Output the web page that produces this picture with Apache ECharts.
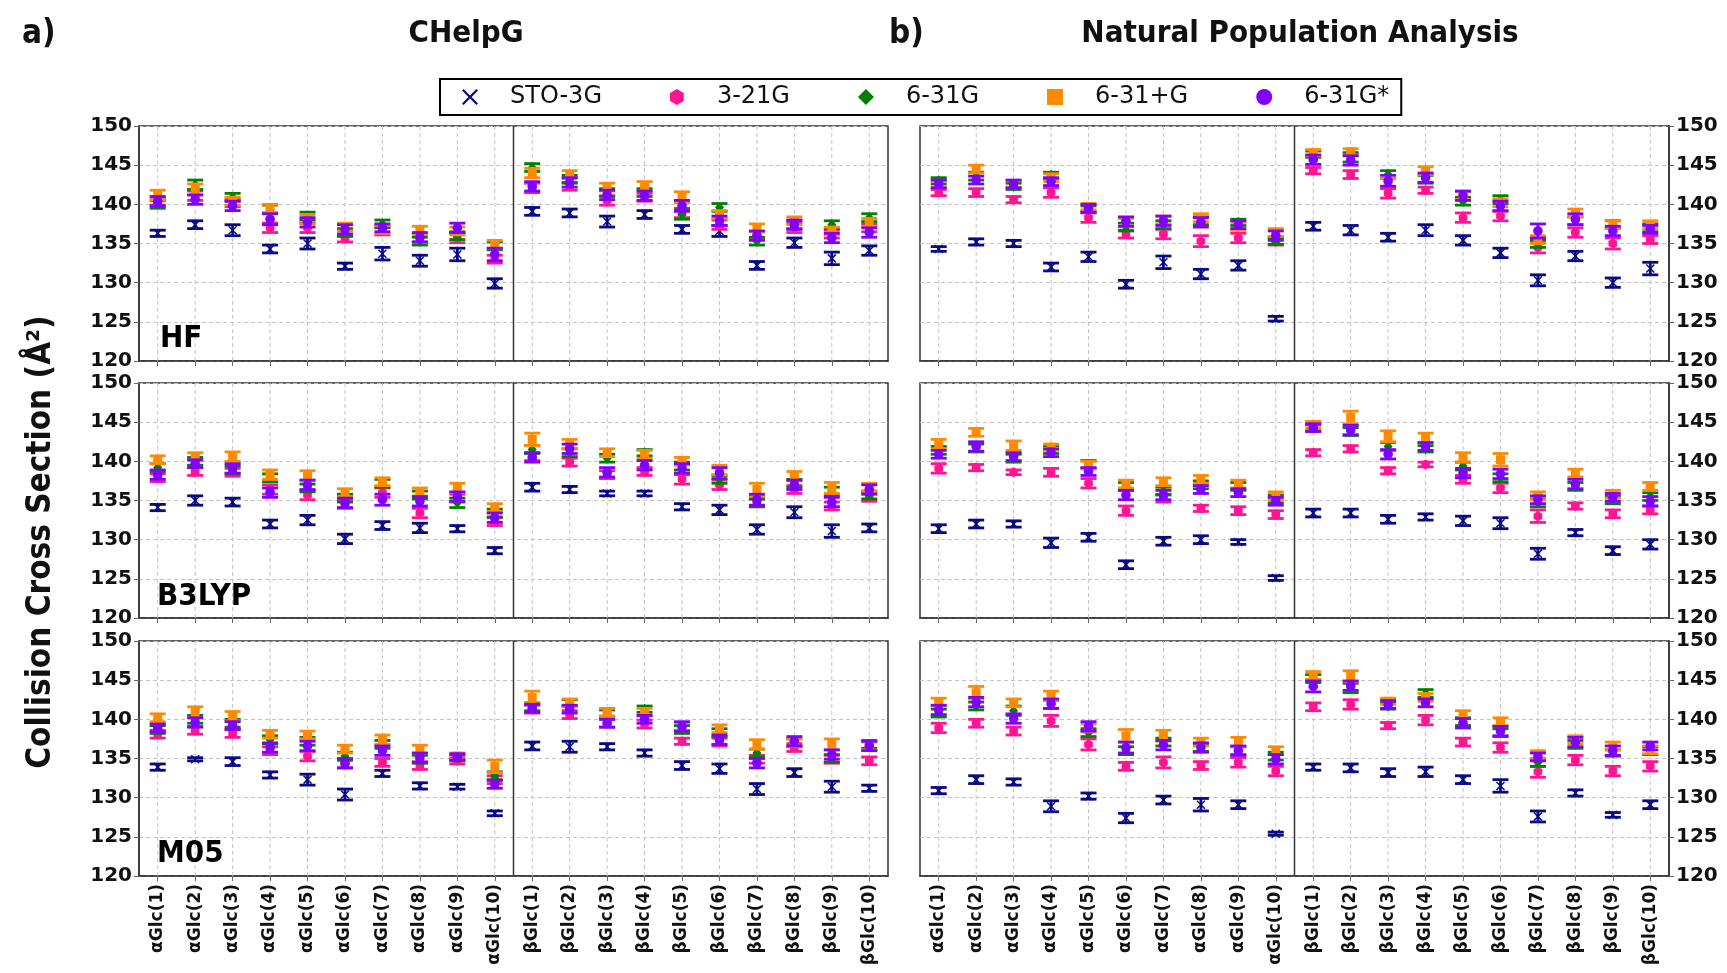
<!DOCTYPE html>
<html><head><meta charset="utf-8">
<script src="https://cdn.jsdelivr.net/npm/echarts@6.0.0/dist/echarts.min.js"></script>
<style>html,body{margin:0;padding:0;background:#fff}#c{width:1727px;height:973px}</style>
</head><body><div id="c"></div>
<script>
// ---------- categories / series names / axis ----------
const CATEGORIES = ['αGlc(1)','αGlc(2)','αGlc(3)','αGlc(4)','αGlc(5)','αGlc(6)','αGlc(7)','αGlc(8)','αGlc(9)','αGlc(10)',
  'βGlc(1)','βGlc(2)','βGlc(3)','βGlc(4)','βGlc(5)','βGlc(6)','βGlc(7)','βGlc(8)','βGlc(9)','βGlc(10)'];
const BASIS_SETS = ['STO-3G','3-21G','6-31G','6-31+G','6-31G*'];
const METHODS = ['HF','B3LYP','M05'];
const CHARGE_SCHEMES = ['CHelpG','Natural Population Analysis'];
const Y_MIN = 120, Y_MAX = 150, Y_STEP = 5;

// ---------- HF / CHelpG ----------
const HF_CHELPG_STO3G = [136.3,137.4,136.7,134.3,135.0,132.1,133.7,132.8,133.6,129.9,139.1,138.9,137.8,138.7,136.8,136.6,132.2,135.1,133.1,134.1];
const HF_CHELPG_321G  = [140.4,141.1,140.2,137.0,137.0,135.7,136.6,135.7,135.7,133.0,142.1,142.3,140.5,140.9,138.9,137.4,136.0,137.0,136.2,137.0];
const HF_CHELPG_631G  = [140.0,142.5,140.9,139.4,138.5,136.4,137.5,135.3,136.0,134.7,144.7,143.2,141.5,141.5,138.7,139.6,135.3,137.4,137.4,138.3];
const HF_CHELPG_631PG = [141.2,141.9,140.4,139.4,138.1,137.1,136.8,136.7,136.6,134.9,144.0,143.8,142.2,142.3,140.9,138.7,137.0,137.9,136.6,137.7];
const HF_CHELPG_631GS = [140.4,140.6,139.8,138.1,137.7,136.8,137.0,135.8,137.0,133.6,142.3,142.8,141.2,141.1,139.8,137.9,136.0,137.4,135.7,136.4];
const HF_CHELPG_STO3G_ERR = [0.4,0.5,0.7,0.5,0.7,0.4,0.8,0.7,0.8,0.6,0.5,0.5,0.7,0.5,0.5,0.7,0.5,0.6,0.8,0.6];
const HF_CHELPG_321G_ERR  = [0.5,0.6,0.5,0.6,0.6,0.5,0.5,0.5,0.6,0.5,0.6,0.5,0.6,0.5,0.6,0.6,0.5,0.6,0.5,0.5];
const HF_CHELPG_631G_ERR  = [0.5,0.6,0.5,0.5,0.5,0.5,0.5,0.5,0.5,0.5,0.5,0.5,0.5,0.5,0.6,0.5,0.5,0.5,0.5,0.5];
const HF_CHELPG_631PG_ERR = [0.6,0.7,0.5,0.6,0.6,0.5,0.5,0.5,0.5,0.5,0.6,0.5,0.5,0.6,0.7,0.5,0.5,0.5,0.5,0.5];
const HF_CHELPG_631GS_ERR = [0.6,0.6,0.6,0.7,0.6,0.6,0.5,0.6,0.6,0.8,0.6,0.6,0.6,0.6,0.7,0.6,0.6,0.6,0.6,0.6];

// ---------- HF / NPA ----------
const HF_NPA_STO3G = [134.3,135.2,135.0,132.0,133.3,129.8,132.6,131.1,132.2,125.4,137.2,136.7,135.8,136.7,135.4,133.8,130.3,133.4,130.0,131.8];
const HF_NPA_321G  = [141.5,141.5,140.6,141.5,138.3,136.2,136.2,135.3,135.7,135.3,144.3,143.8,141.4,141.8,138.3,138.5,134.5,136.4,135.0,135.5];
const HF_NPA_631G  = [143.0,143.6,142.3,143.7,139.4,137.1,137.4,137.9,137.7,135.3,146.4,146.0,143.8,143.2,140.4,140.6,135.0,137.9,137.4,137.0];
const HF_NPA_631PG = [142.6,144.5,142.6,143.4,139.7,137.7,138.0,138.3,137.2,136.4,146.6,146.7,142.8,144.3,141.1,140.2,135.5,138.9,137.4,137.4];
const HF_NPA_631GS = [142.6,143.1,142.6,142.9,139.5,137.8,137.9,137.7,137.4,136.0,145.7,145.6,143.0,143.4,141.1,139.8,136.6,138.1,136.6,136.8];
const HF_NPA_STO3G_ERR = [0.3,0.4,0.4,0.5,0.6,0.5,0.8,0.6,0.6,0.3,0.5,0.6,0.5,0.7,0.6,0.6,0.7,0.6,0.6,0.8];
const HF_NPA_321G_ERR  = [0.4,0.5,0.4,0.6,0.6,0.5,0.6,0.7,0.6,0.5,0.4,0.5,0.6,0.4,0.6,0.6,0.7,0.6,0.7,0.5];
const HF_NPA_631G_ERR  = [0.4,0.5,0.4,0.4,0.4,0.5,0.5,0.5,0.4,0.4,0.4,0.6,0.5,0.5,0.5,0.5,0.5,0.5,0.5,0.5];
const HF_NPA_631PG_ERR = [0.4,0.5,0.4,0.5,0.4,0.5,0.5,0.5,0.5,0.5,0.4,0.4,0.5,0.5,0.5,0.5,0.5,0.5,0.5,0.5];
const HF_NPA_631GS_ERR = [0.5,0.5,0.5,0.5,0.5,0.6,0.6,0.6,0.5,0.6,0.6,0.6,0.7,0.6,0.6,0.6,0.9,0.7,0.6,0.5];

// ---------- B3LYP / CHelpG ----------
const B3LYP_CHELPG_STO3G = [134.1,135.0,134.8,132.0,132.5,130.1,131.8,131.5,131.4,128.6,136.7,136.4,135.9,135.9,134.2,133.8,131.3,133.5,131.1,131.5];
const B3LYP_CHELPG_321G  = [137.9,138.7,138.6,136.4,135.7,134.5,136.0,133.4,135.3,132.3,140.6,139.9,138.3,138.7,137.7,137.0,134.7,136.4,134.3,135.4];
const B3LYP_CHELPG_631G  = [139.2,140.0,138.9,137.9,136.6,135.3,137.2,135.7,134.7,133.4,141.5,141.1,140.4,141.1,139.4,137.7,134.7,137.2,136.2,135.7];
const B3LYP_CHELPG_631PG = [140.2,140.6,140.6,138.3,138.2,136.0,137.4,136.1,136.6,134.1,142.8,142.2,141.1,140.9,140.0,138.9,136.4,138.1,136.6,136.7];
const B3LYP_CHELPG_631GS = [138.3,139.7,139.1,136.0,137.0,134.7,135.1,134.9,135.5,132.8,140.5,141.6,138.6,139.5,139.1,138.5,135.1,137.0,134.8,136.4];
const B3LYP_CHELPG_STO3G_ERR = [0.4,0.6,0.5,0.5,0.6,0.6,0.5,0.6,0.4,0.4,0.5,0.4,0.3,0.3,0.4,0.6,0.6,0.7,0.8,0.5];
const B3LYP_CHELPG_321G_ERR  = [0.5,0.5,0.5,0.6,0.6,0.5,0.6,0.6,0.5,0.5,0.5,0.5,0.5,0.5,0.6,0.6,0.5,0.5,0.5,0.5];
const B3LYP_CHELPG_631G_ERR  = [0.5,0.5,0.5,0.5,0.5,0.5,0.5,0.5,0.6,0.5,0.5,0.5,0.5,0.4,0.5,0.5,0.5,0.5,0.5,0.5];
const B3LYP_CHELPG_631PG_ERR = [0.5,0.5,0.6,0.6,0.6,0.5,0.5,0.5,0.6,0.5,0.8,0.6,0.5,0.5,0.5,0.6,0.8,0.6,0.7,0.5];
const B3LYP_CHELPG_631GS_ERR = [0.6,0.5,0.6,0.6,0.6,0.6,0.7,0.6,0.6,0.6,0.6,0.6,0.6,0.6,0.6,0.7,0.7,0.6,0.6,0.6];

// ---------- B3LYP / NPA ----------
const B3LYP_NPA_STO3G = [131.4,132.0,132.0,129.6,130.3,126.8,129.8,130.0,129.7,125.1,133.4,133.4,132.6,132.9,132.4,132.1,128.2,130.9,128.6,129.4];
const B3LYP_NPA_321G  = [139.1,139.2,138.6,138.6,137.2,133.7,135.3,134.0,133.7,133.2,141.1,141.6,138.8,139.6,137.7,136.6,133.0,134.3,133.3,133.8];
const B3LYP_NPA_631G  = [141.4,141.7,140.4,141.5,139.6,136.8,136.2,137.0,136.8,135.2,144.3,143.8,141.9,141.6,139.4,137.9,134.7,136.8,135.1,135.5];
const B3LYP_NPA_631PG = [142.2,143.7,142.0,141.8,139.5,137.1,137.4,137.7,137.1,135.6,144.7,145.6,143.2,143.0,140.5,140.2,135.6,138.5,135.8,136.8];
const B3LYP_NPA_631GS = [140.9,141.9,140.6,141.1,138.7,135.7,135.7,136.4,136.0,134.9,144.3,144.0,140.9,141.9,138.5,138.4,135.1,137.1,135.4,134.9];
const B3LYP_NPA_STO3G_ERR = [0.5,0.5,0.4,0.6,0.5,0.5,0.5,0.5,0.3,0.3,0.5,0.5,0.5,0.4,0.6,0.7,0.7,0.4,0.5,0.6];
const B3LYP_NPA_321G_ERR  = [0.6,0.4,0.3,0.5,0.6,0.6,0.5,0.4,0.5,0.5,0.4,0.4,0.4,0.3,0.5,0.6,0.8,0.4,0.5,0.5];
const B3LYP_NPA_631G_ERR  = [0.5,0.5,0.5,0.5,0.5,0.5,0.5,0.5,0.5,0.5,0.4,0.5,0.5,0.4,0.5,0.5,0.5,0.5,0.5,0.5];
const B3LYP_NPA_631PG_ERR = [0.6,0.5,0.6,0.4,0.5,0.5,0.5,0.5,0.5,0.5,0.4,0.8,0.7,0.6,0.6,0.8,0.5,0.5,0.5,0.5];
const B3LYP_NPA_631GS_ERR = [0.5,0.6,0.5,0.5,0.5,0.6,0.6,0.5,0.5,0.5,0.5,0.6,0.6,0.5,0.6,0.6,0.5,0.6,0.5,0.6];

// ---------- M05 / CHelpG ----------
const M05_CHELPG_STO3G = [133.9,134.9,134.6,132.9,132.3,130.4,133.1,131.5,131.4,128.0,136.6,136.5,136.5,135.7,134.1,133.7,131.1,133.2,131.4,131.2];
const M05_CHELPG_321G  = [138.1,138.6,138.2,136.0,135.3,134.3,134.5,134.1,134.7,132.3,141.3,140.6,139.5,139.4,137.2,137.1,134.9,136.4,134.9,134.7];
const M05_CHELPG_631G  = [138.7,140.0,139.5,137.4,137.2,135.3,136.8,134.9,135.1,132.8,141.6,142.1,140.8,141.3,138.7,138.3,135.7,137.0,135.0,136.8];
const M05_CHELPG_631PG = [140.2,140.9,140.4,138.1,138.0,136.2,137.4,136.2,135.3,134.0,142.8,142.1,140.9,140.9,139.1,138.8,136.8,137.0,136.8,136.6];
const M05_CHELPG_631GS = [138.9,139.6,139.2,136.4,136.6,134.4,136.0,135.1,135.2,131.7,141.4,141.3,139.5,140.0,139.1,137.4,134.4,137.2,135.5,136.6];
const M05_CHELPG_STO3G_ERR = [0.4,0.2,0.5,0.4,0.7,0.7,0.4,0.4,0.3,0.3,0.5,0.7,0.4,0.4,0.5,0.6,0.7,0.5,0.7,0.4];
const M05_CHELPG_321G_ERR  = [0.5,0.5,0.5,0.5,0.6,0.5,0.5,0.5,0.4,0.5,0.5,0.5,0.5,0.5,0.4,0.5,0.5,0.5,0.5,0.5];
const M05_CHELPG_631G_ERR  = [0.5,0.5,0.5,0.5,0.5,0.5,0.5,0.5,0.4,0.5,0.5,0.4,0.4,0.4,0.5,0.5,0.5,0.5,0.5,0.5];
const M05_CHELPG_631PG_ERR = [0.5,0.7,0.6,0.5,0.5,0.5,0.6,0.5,0.4,0.8,0.8,0.5,0.5,0.5,0.5,0.5,0.6,0.5,0.7,0.5];
const M05_CHELPG_631GS_ERR = [0.5,0.6,0.5,0.6,0.6,0.6,0.6,0.6,0.4,0.5,0.5,0.5,0.5,0.5,0.6,0.6,0.6,0.6,0.6,0.6];

// ---------- M05 / NPA ----------
const M05_NPA_STO3G = [130.9,132.3,132.0,128.9,130.2,127.4,129.7,129.1,129.1,125.4,133.9,133.8,133.2,133.3,132.3,131.5,127.6,130.6,127.8,129.1];
const M05_NPA_321G  = [138.9,139.5,138.5,139.8,136.8,134.0,134.5,134.1,134.5,133.4,141.6,141.9,139.2,139.9,137.1,136.4,133.3,134.8,133.4,134.0];
const M05_NPA_631G  = [140.8,141.7,141.1,141.9,138.3,136.0,137.1,136.4,136.0,135.3,145.2,144.0,141.7,143.3,139.7,138.3,134.5,136.8,135.7,136.0];
const M05_NPA_631PG = [142.2,143.4,142.1,143.0,138.9,137.9,137.9,137.1,137.1,136.0,145.6,145.5,142.3,142.8,140.6,139.7,135.5,137.4,136.6,136.1];
const M05_NPA_631GS = [141.2,142.2,140.1,142.0,139.1,136.4,136.7,136.4,136.0,134.9,144.2,144.3,141.9,142.1,139.5,138.5,135.2,137.1,136.0,136.6];
const M05_NPA_STO3G_ERR = [0.4,0.5,0.4,0.7,0.4,0.6,0.5,0.8,0.5,0.2,0.4,0.5,0.5,0.6,0.5,0.8,0.7,0.4,0.3,0.5];
const M05_NPA_321G_ERR  = [0.6,0.5,0.5,0.7,0.7,0.5,0.7,0.5,0.6,0.6,0.5,0.6,0.4,0.6,0.5,0.6,0.7,0.6,0.6,0.6];
const M05_NPA_631G_ERR  = [0.5,0.5,0.6,0.5,0.5,0.5,0.5,0.5,0.5,0.5,0.5,0.6,0.4,0.5,0.5,0.5,0.5,0.5,0.4,0.5];
const M05_NPA_631PG_ERR = [0.5,0.8,0.5,0.6,0.5,0.8,0.7,0.5,0.6,0.5,0.5,0.7,0.4,0.5,0.5,0.5,0.5,0.5,0.5,0.5];
const M05_NPA_631GS_ERR = [0.6,0.6,0.6,0.6,0.6,0.7,0.6,0.6,0.6,0.6,0.7,0.6,0.5,0.5,0.6,0.6,0.5,0.6,0.6,0.5];

// ---------- style ----------
const COLORS = ['#0a0a86','#ff1493','#008000','#ff8a00','#8000ff'];
const MARKERS = ['x','hex','diamond','square','circle'];
const LEGEND_ICONS = [
  'path://M1,0 L5,4 L9,0 L10,1 L6,5 L10,9 L9,10 L5,6 L1,10 L0,9 L4,5 L0,1 Z',
  'path://M5,0 L10,2.9 L10,8.7 L5,11.6 L0,8.7 L0,2.9 Z',
  'diamond','rect','circle'];
const NARROW = '"Liberation Sans Narrow","DejaVu Sans Condensed",sans-serif';

const PANELS = [
  {method:0, col:0, vals:[HF_CHELPG_STO3G,HF_CHELPG_321G,HF_CHELPG_631G,HF_CHELPG_631PG,HF_CHELPG_631GS],
   errs:[HF_CHELPG_STO3G_ERR,HF_CHELPG_321G_ERR,HF_CHELPG_631G_ERR,HF_CHELPG_631PG_ERR,HF_CHELPG_631GS_ERR]},
  {method:0, col:1, vals:[HF_NPA_STO3G,HF_NPA_321G,HF_NPA_631G,HF_NPA_631PG,HF_NPA_631GS],
   errs:[HF_NPA_STO3G_ERR,HF_NPA_321G_ERR,HF_NPA_631G_ERR,HF_NPA_631PG_ERR,HF_NPA_631GS_ERR]},
  {method:1, col:0, vals:[B3LYP_CHELPG_STO3G,B3LYP_CHELPG_321G,B3LYP_CHELPG_631G,B3LYP_CHELPG_631PG,B3LYP_CHELPG_631GS],
   errs:[B3LYP_CHELPG_STO3G_ERR,B3LYP_CHELPG_321G_ERR,B3LYP_CHELPG_631G_ERR,B3LYP_CHELPG_631PG_ERR,B3LYP_CHELPG_631GS_ERR]},
  {method:1, col:1, vals:[B3LYP_NPA_STO3G,B3LYP_NPA_321G,B3LYP_NPA_631G,B3LYP_NPA_631PG,B3LYP_NPA_631GS],
   errs:[B3LYP_NPA_STO3G_ERR,B3LYP_NPA_321G_ERR,B3LYP_NPA_631G_ERR,B3LYP_NPA_631PG_ERR,B3LYP_NPA_631GS_ERR]},
  {method:2, col:0, vals:[M05_CHELPG_STO3G,M05_CHELPG_321G,M05_CHELPG_631G,M05_CHELPG_631PG,M05_CHELPG_631GS],
   errs:[M05_CHELPG_STO3G_ERR,M05_CHELPG_321G_ERR,M05_CHELPG_631G_ERR,M05_CHELPG_631PG_ERR,M05_CHELPG_631GS_ERR]},
  {method:2, col:1, vals:[M05_NPA_STO3G,M05_NPA_321G,M05_NPA_631G,M05_NPA_631PG,M05_NPA_631GS],
   errs:[M05_NPA_STO3G_ERR,M05_NPA_321G_ERR,M05_NPA_631G_ERR,M05_NPA_631PG_ERR,M05_NPA_631GS_ERR]}
];

const GRID_LEFT = [139, 920], GRID_WIDTH = 749;
const GRID_TOP = [126, 383, 641], GRID_HEIGHT = 235;
const DIVIDER_AFTER = CATEGORIES.findIndex(c => c.startsWith('β')) - 1;

function markerShape(kind, x, y, color) {
  if (kind === 'x') {
    const r = 4;
    return {type:'group', children:[
      {type:'line', shape:{x1:x-r,y1:y-r,x2:x+r,y2:y+r}, style:{stroke:color,lineWidth:1.5}},
      {type:'line', shape:{x1:x-r,y1:y+r,x2:x+r,y2:y-r}, style:{stroke:color,lineWidth:1.5}}]};
  }
  if (kind === 'hex') {
    const r = 5, pts = [];
    for (let k = 0; k < 6; k++) { const a = -Math.PI/2 + k*Math.PI/3; pts.push([x + r*Math.cos(a), y + r*Math.sin(a)]); }
    return {type:'polygon', shape:{points:pts}, style:{fill:color}};
  }
  if (kind === 'diamond') {
    return {type:'polygon', shape:{points:[[x,y-5.5],[x+4.5,y],[x,y+5.5],[x-4.5,y]]}, style:{fill:color}};
  }
  if (kind === 'square') {
    return {type:'rect', shape:{x:x-4.5,y:y-4.5,width:9,height:9}, style:{fill:color}};
  }
  return {type:'circle', shape:{cx:x,cy:y,r:4.8}, style:{fill:color}};
}

function makeErrorRender(kind) {
  return function (params, api) {
    const i = api.value(0), v = api.value(1), e = api.value(2);
    const p = api.coord([i, v]);
    const top = api.coord([i, v + e])[1], bot = api.coord([i, v - e])[1];
    const color = api.visual('color');
    const cw = 8, st = {stroke: color, lineWidth: 2.8};
    return {type:'group', children:[
      {type:'line', shape:{x1:p[0],y1:top,x2:p[0],y2:bot}, style:st},
      {type:'line', shape:{x1:p[0]-cw,y1:top,x2:p[0]+cw,y2:top}, style:st},
      {type:'line', shape:{x1:p[0]-cw,y1:bot,x2:p[0]+cw,y2:bot}, style:st},
      markerShape(kind, p[0], p[1], color)
    ]};
  };
}

function gridRender(params, api) {
  const i = api.value(0);
  const cs = params.coordSys;
  const x = api.coord([i, Y_MIN])[0];
  const ch = [{type:'line', shape:{x1:x,y1:cs.y,x2:x,y2:cs.y+cs.height},
               style:{stroke:'#c4c4c4', lineWidth:1, lineDash:[4,3]}}];
  if (i === DIVIDER_AFTER) {
    const bw = api.size([1, 0])[0];
    ch.push({type:'line', shape:{x1:x+bw/2,y1:cs.y,x2:x+bw/2,y2:cs.y+cs.height},
             style:{stroke:'#333', lineWidth:1.5}});
  }
  return {type:'group', children: ch};
}

const grids = [], xAxes = [], yAxes = [], series = [];
PANELS.forEach((pn, g) => {
  const bottomRow = pn.method === METHODS.length - 1;
  grids.push({left: GRID_LEFT[pn.col], top: GRID_TOP[pn.method], width: GRID_WIDTH, height: GRID_HEIGHT,
    show: true, borderColor: '#333', borderWidth: 1.5, containLabel: false});
  xAxes.push({type:'category', gridIndex:g, data:CATEGORIES, boundaryGap:true,
    axisLine:{show:true, lineStyle:{color:'#333', width:1.5}},
    axisTick:{show:true, alignWithLabel:true, length:5, lineStyle:{color:'#666'}},
    axisLabel:{show:bottomRow, rotate:90, interval:0, margin:8, color:'#111',
      fontFamily:'DejaVu Sans', fontWeight:'bold', fontSize:17},
    splitLine:{show:false}});
  yAxes.push({type:'value', gridIndex:g, min:Y_MIN, max:Y_MAX, interval:Y_STEP,
    position: pn.col === 0 ? 'left' : 'right',
    axisLine:{show:true, lineStyle:{color:'#333', width:1.5}},
    axisTick:{show:true, length:5, lineStyle:{color:'#666'}},
    axisLabel:{show:true, margin:7, color:'#111', fontFamily:'DejaVu Sans', fontWeight:'bold', fontSize:20},
    splitLine:{show:true, lineStyle:{color:'#c4c4c4', type:[4,3], width:1}}});
  series.push({type:'custom', name:'_grid'+g, xAxisIndex:g, yAxisIndex:g, silent:true, z:1,
    renderItem: gridRender, data: CATEGORIES.map((c, i) => [i, Y_MIN]), encode:{x:0, y:1}});
  BASIS_SETS.forEach((b, s) => {
    series.push({type:'custom', name:b, xAxisIndex:g, yAxisIndex:g, z:3+s,
      itemStyle:{color:COLORS[s]},
      renderItem: makeErrorRender(MARKERS[s]),
      encode:{x:0, y:1},
      data: pn.vals[s].map((v, i) => [i, v, pn.errs[s][i]])});
  });
});

const METHOD_LABEL_POS = [[160, 339], [157, 597], [157, 854]];
const graphics = [
  {type:'text', x:22, y:34, style:{text:'a)', font:'bold 33px '+NARROW, fill:'#111', verticalAlign:'middle'}},
  {type:'text', x:466, y:34, style:{text:CHARGE_SCHEMES[0], font:'bold 31px '+NARROW, fill:'#111', align:'center', verticalAlign:'middle'}},
  {type:'text', x:889, y:34, style:{text:'b)', font:'bold 33px '+NARROW, fill:'#111', verticalAlign:'middle'}},
  {type:'text', x:1300, y:34, style:{text:CHARGE_SCHEMES[1], font:'bold 31px '+NARROW, fill:'#111', align:'center', verticalAlign:'middle'}},
  {type:'text', x:41, y:542, rotation:Math.PI/2, style:{text:'Collision Cross Section (Å²)', font:'bold 33px '+NARROW, fill:'#111', align:'center', verticalAlign:'middle'}}
];
METHODS.forEach((m, r) => graphics.push({type:'text', x:METHOD_LABEL_POS[r][0], y:METHOD_LABEL_POS[r][1],
  z:10, style:{text:m, font:'bold 31px '+NARROW, fill:'#000', verticalAlign:'middle'}}));

const chart = echarts.init(document.getElementById('c'), null, {renderer:'canvas'});
chart.setOption({
  animation:false,
  backgroundColor:'#fff',
  grid: grids, xAxis: xAxes, yAxis: yAxes, series: series,
  legend: {left:440, top:79, padding:[6,12,6,22], itemGap:68, itemWidth:16, itemHeight:16,
    borderColor:'#000', borderWidth:2, selectedMode:false,
    textStyle:{fontFamily:'DejaVu Sans', fontSize:24, color:'#111', padding:[0,0,0,27]},
    data: BASIS_SETS.map((b, s) => ({name:b, icon:LEGEND_ICONS[s], itemStyle:{color:COLORS[s]}}))},
  graphic: graphics
});
</script></body></html>
